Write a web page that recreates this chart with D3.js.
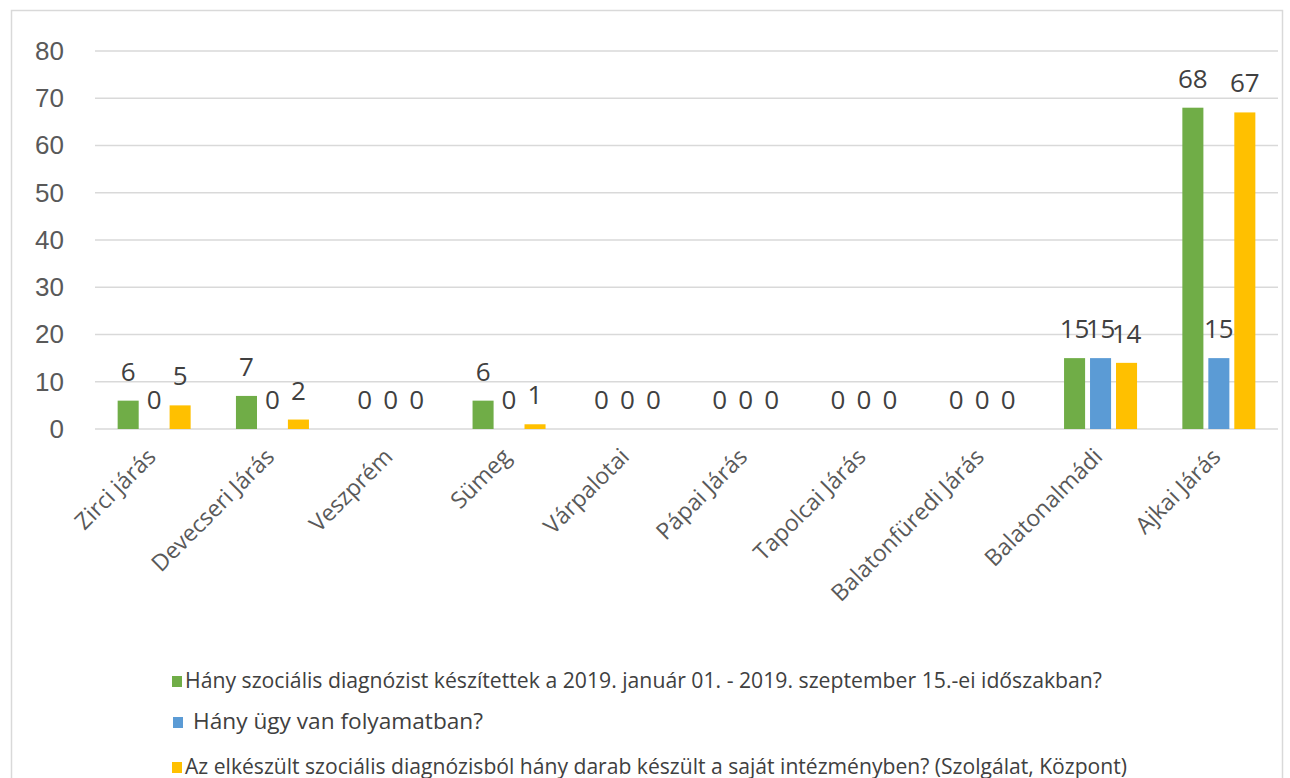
<!DOCTYPE html>
<html lang="hu">
<head>
<meta charset="UTF-8">
<script src="https://cdn.jsdelivr.net/npm/d3@7/dist/d3.min.js"></script>
<style>
  body { margin: 0; background: #fff; }
  svg { display: block; font-family: "Open Sans", "Noto Sans", sans-serif; }
  .grid line { stroke: #d9d9d9; stroke-width: 1.5px; }
  .yaxis text { fill: #595959; font-size: 26px; }
  .xaxis text { fill: #595959; font-size: 23px; }
  .lbl { fill: #404040; font-size: 26px; text-anchor: middle; }
  .leg text { fill: #404040; font-size: 21px; }
</style>
</head>
<body>
<svg width="1290" height="778"></svg>
<script>
// categories (járások)
var categories = ["Zirci járás", "Devecseri Járás", "Veszprém", "Sümeg", "Várpalotai",
                  "Pápai Járás", "Tapolcai Járás", "Balatonfüredi Járás", "Balatonalmádi", "Ajkai Járás"];

// series values
var diagnozis = [6, 7, 0, 6, 0, 0, 0, 0, 15, 68];
var folyamatban = [0, 0, 0, 0, 0, 0, 0, 0, 15, 15];
var sajat = [5, 2, 0, 1, 0, 0, 0, 0, 14, 67];

var seriesNames = [
  "Hány szociális diagnózist készítettek a 2019. január 01. - 2019. szeptember 15.-ei időszakban?",
  "Hány ügy van folyamatban?",
  "Az elkészült szociális diagnózisból hány darab készült a saját intézményben? (Szolgálat, Központ)"
];
var colors = ["#70AD47", "#5B9BD5", "#FFC000"];
var yTicks = [0, 10, 20, 30, 40, 50, 60, 70, 80];

var series = [diagnozis, folyamatban, sajat];

var svg = d3.select("svg");

// chart frame
svg.append("rect")
  .attr("x", 11.5).attr("y", 10.5)
  .attr("width", 1271).attr("height", 800)
  .attr("fill", "none").attr("stroke", "#d9d9d9").attr("stroke-width", 1.5);

var plotL = 95, plotR = 1278, plotT = 51, plotB = 429;

var y = d3.scaleLinear().domain([0, 80]).range([plotB, plotT]);
var x0 = d3.scaleBand().domain(categories).range([plotL, plotR]).padding(0);
var groupW = 73;
var x1 = d3.scaleBand().domain([0, 1, 2]).range([0, groupW]).paddingInner(0.19);

// gridlines
svg.append("g").attr("class", "grid")
  .selectAll("line").data(yTicks).enter().append("line")
  .attr("x1", plotL).attr("x2", plotR)
  .attr("y1", function(d) { return y(d); })
  .attr("y2", function(d) { return y(d); });

// y axis
var yAxis = d3.axisLeft(y).tickValues(yTicks).tickSize(0).tickPadding(0);
svg.append("g").attr("class", "yaxis")
  .attr("transform", "translate(64,0)")
  .call(yAxis)
  .call(function(g) { g.select(".domain").remove(); })
  .selectAll("text").attr("font-family", null).attr("font-size", null);

// bars
var groups = svg.selectAll(".grp")
  .data(categories).enter().append("g")
  .attr("class", "grp")
  .attr("transform", function(d) {
    return "translate(" + (x0(d) + (x0.bandwidth() - groupW) / 2) + ",0)";
  });

groups.selectAll("rect")
  .data(function(d, i) { return series.map(function(s, k) { return {k: k, v: s[i]}; }); })
  .enter().append("rect")
  .attr("x", function(d) { return x1(d.k); })
  .attr("width", x1.bandwidth())
  .attr("y", function(d) { return y(d.v); })
  .attr("height", function(d) { return plotB - y(d.v); })
  .attr("fill", function(d) { return colors[d.k]; });

groups.selectAll(".lbl")
  .data(function(d, i) { return series.map(function(s, k) { return {k: k, v: s[i]}; }); })
  .enter().append("text")
  .attr("class", "lbl")
  .attr("x", function(d) { return x1(d.k) + x1.bandwidth() / 2; })
  .attr("y", function(d) { return y(d.v) - 20; })
  .text(function(d) { return d.v; });

// x axis labels
var xaxis = svg.append("g").attr("class", "xaxis");
xaxis.selectAll("text").data(categories).enter().append("text")
  .attr("text-anchor", "end")
  .attr("dy", "0.75em")
  .attr("transform", function(d) {
    return "translate(" + (x0(d) + x0.bandwidth() / 2 - 9) + ",446) rotate(-45)";
  })
  .text(function(d) { return d; });

// legend
var legY = [681, 722, 767];
var legLen = [917, 290, 942];
var leg = svg.append("g").attr("class", "leg");
var items = leg.selectAll("g").data(seriesNames).enter().append("g")
  .attr("transform", function(d, i) { return "translate(172," + legY[i] + ")"; });
items.append("rect")
  .attr("x", function(d, i) { return i === 1 ? 1 : 0; })
  .attr("y", -5).attr("width", 10).attr("height", 11)
  .attr("fill", function(d, i) { return colors[i]; });
items.append("text")
  .attr("x", function(d, i) { return i === 1 ? 21 : 13; })
  .attr("y", 7)
  .attr("textLength", function(d, i) { return legLen[i]; })
  .attr("lengthAdjust", "spacingAndGlyphs")
  .text(function(d) { return d; });
</script>
</body>
</html>
